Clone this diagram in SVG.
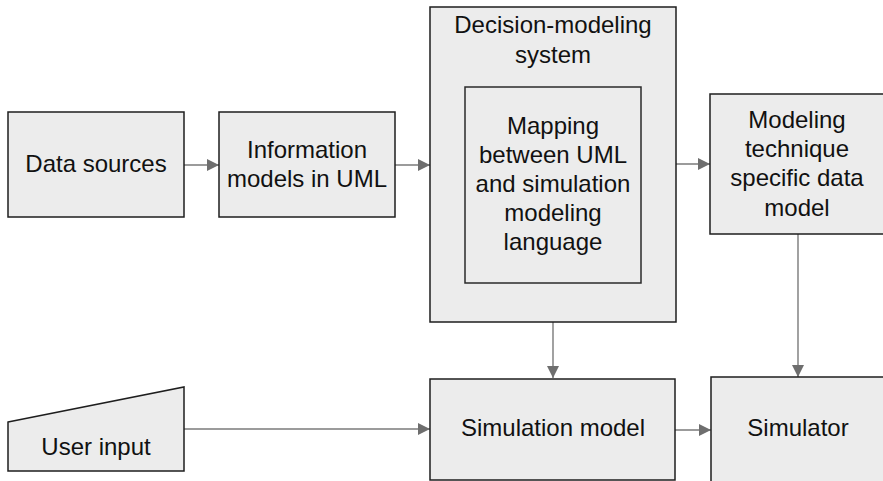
<svg xmlns="http://www.w3.org/2000/svg" width="883" height="481" viewBox="0 0 883 481">
  <defs>
    <marker id="arrow" viewBox="0 0 12 12" refX="12" refY="6" markerWidth="12" markerHeight="12" markerUnits="userSpaceOnUse" orient="auto">
      <path d="M0,0 L12,6 L0,12 Z" fill="#6e6e6e"/>
    </marker>
  </defs>
  <style>
    .box { fill: #ececec; stroke: #1e1e1e; stroke-width: 1.5; }
    .inner { fill: #ececec; stroke: #2a2a2a; stroke-width: 1.5; }
    .lbl { font-family: "Liberation Sans", Arial, sans-serif; font-size: 24px; fill: #111; text-anchor: middle; }
    .conn { stroke: #7a7a7a; stroke-width: 1.4; fill: none; }
  </style>

  <rect width="883" height="481" fill="#ffffff"/>

  <g id="connectors">
    <line class="conn" x1="184" y1="165" x2="219" y2="165" marker-end="url(#arrow)"/>
    <line class="conn" x1="395" y1="165" x2="430" y2="165" marker-end="url(#arrow)"/>
    <line class="conn" x1="676" y1="164" x2="710" y2="164" marker-end="url(#arrow)"/>
    <line class="conn" x1="553" y1="322" x2="553" y2="378" marker-end="url(#arrow)"/>
    <line class="conn" x1="798" y1="234" x2="798" y2="377" marker-end="url(#arrow)"/>
    <line class="conn" x1="184" y1="429" x2="430" y2="429" marker-end="url(#arrow)"/>
    <line class="conn" x1="675" y1="430" x2="711" y2="430" marker-end="url(#arrow)"/>
  </g>

  <g id="data-sources">
    <rect class="box" x="8" y="112" width="176" height="105"/>
    <text class="lbl" x="96" y="172">Data sources</text>
  </g>

  <g id="information-models">
    <rect class="box" x="219" y="112" width="176" height="105"/>
    <text class="lbl" x="307" y="158">Information</text>
    <text class="lbl" x="307" y="187">models in UML</text>
  </g>

  <g id="decision-modeling-system">
    <rect class="box" x="430" y="7" width="246" height="315"/>
    <text class="lbl" x="553" y="33">Decision-modeling</text>
    <text class="lbl" x="553" y="63">system</text>
  </g>

  <g id="mapping">
    <rect class="inner" x="465" y="87" width="176" height="196"/>
    <text class="lbl" x="553" y="134">Mapping</text>
    <text class="lbl" x="553" y="163">between UML</text>
    <text class="lbl" x="553" y="192">and simulation</text>
    <text class="lbl" x="553" y="221">modeling</text>
    <text class="lbl" x="553" y="250">language</text>
  </g>

  <g id="data-model">
    <rect class="box" x="710" y="94" width="180" height="140"/>
    <text class="lbl" x="797" y="128">Modeling</text>
    <text class="lbl" x="797" y="157">technique</text>
    <text class="lbl" x="797" y="186">specific data</text>
    <text class="lbl" x="797" y="216">model</text>
  </g>

  <g id="user-input">
    <path class="box" d="M8,422 L184,387 L184,471 L8,471 Z"/>
    <text class="lbl" x="96" y="455">User input</text>
  </g>

  <g id="simulation-model">
    <rect class="box" x="430" y="379" width="245" height="101"/>
    <text class="lbl" x="553" y="436">Simulation model</text>
  </g>

  <g id="simulator">
    <rect class="box" x="711" y="377" width="180" height="110"/>
    <text class="lbl" x="798" y="436">Simulator</text>
  </g>
</svg>
